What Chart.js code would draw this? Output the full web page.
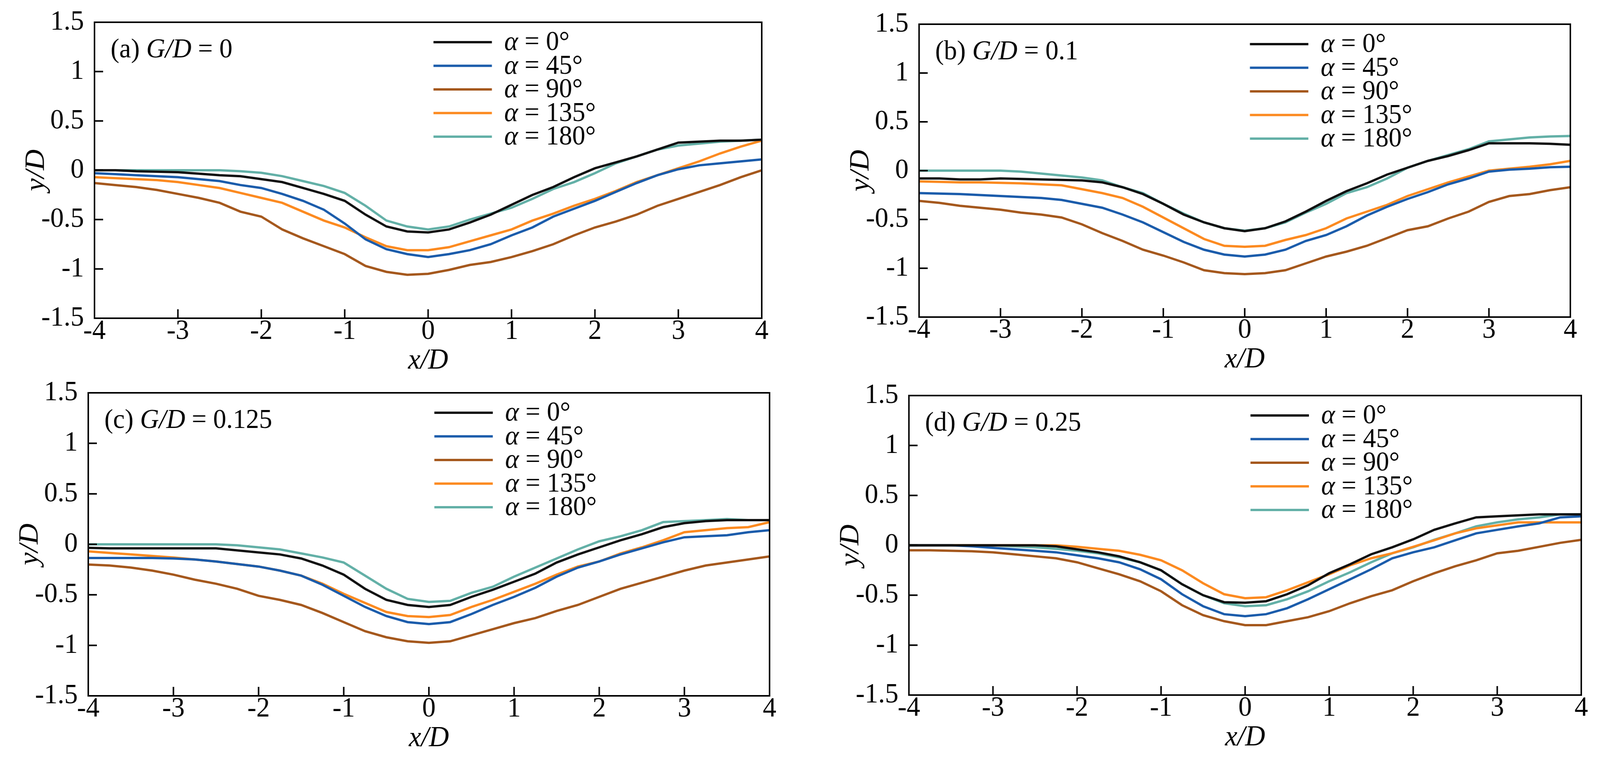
<!DOCTYPE html>
<html>
<head>
<meta charset="utf-8">
<script src="https://cdn.jsdelivr.net/npm/chart.js@4.4.1/dist/chart.umd.min.js"></script>
<style>
html,body{margin:0;padding:0;background:#fff;overflow:hidden}
canvas{position:absolute}
</style>
</head>
<body>
<canvas id="pa"></canvas>
<canvas id="pb"></canvas>
<canvas id="pc"></canvas>
<canvas id="pd"></canvas>
<script>
// ---------- DATA ----------
const xD = [-4,-3.75,-3.5,-3.25,-3,-2.75,-2.5,-2.25,-2,-1.75,-1.5,-1.25,-1,-0.75,-0.5,-0.25,0,0.25,0.5,0.75,1,1.25,1.5,1.75,2,2.25,2.5,2.75,3,3.25,3.5,3.75,4];
const xTicks = [-4,-3,-2,-1,0,1,2,3,4];
const yTicks = [-1.5,-1,-0.5,0,0.5,1,1.5];
const angles = ['0','45','90','135','180'];
const panelTags = ['(a)','(b)','(c)','(d)'];
const gapRatios = ['0','0.1','0.125','0.25'];

// (a) G/D = 0
const a0   = [0,0,-0.01,-0.015,-0.02,-0.035,-0.05,-0.06,-0.09,-0.12,-0.18,-0.24,-0.31,-0.45,-0.57,-0.62,-0.63,-0.6,-0.53,-0.45,-0.35,-0.25,-0.17,-0.07,0.02,0.08,0.14,0.21,0.28,0.29,0.3,0.3,0.31];
const a45  = [-0.03,-0.04,-0.05,-0.06,-0.07,-0.09,-0.11,-0.15,-0.18,-0.24,-0.31,-0.4,-0.54,-0.7,-0.8,-0.85,-0.88,-0.85,-0.81,-0.75,-0.66,-0.58,-0.47,-0.39,-0.31,-0.22,-0.13,-0.05,0.01,0.05,0.07,0.09,0.11];
const a90  = [-0.13,-0.15,-0.17,-0.2,-0.24,-0.28,-0.33,-0.42,-0.47,-0.6,-0.69,-0.77,-0.85,-0.97,-1.03,-1.06,-1.05,-1.01,-0.96,-0.93,-0.88,-0.82,-0.75,-0.66,-0.58,-0.52,-0.45,-0.36,-0.29,-0.22,-0.15,-0.07,0];
const a135 = [-0.07,-0.08,-0.09,-0.1,-0.12,-0.15,-0.18,-0.23,-0.28,-0.33,-0.42,-0.51,-0.58,-0.68,-0.77,-0.81,-0.81,-0.78,-0.72,-0.66,-0.6,-0.51,-0.44,-0.36,-0.29,-0.21,-0.12,-0.05,0.02,0.09,0.17,0.24,0.3];
const a180 = [0,0,0,0,0,0,0,-0.01,-0.026,-0.06,-0.11,-0.16,-0.23,-0.36,-0.51,-0.57,-0.6,-0.57,-0.5,-0.44,-0.38,-0.29,-0.19,-0.12,-0.03,0.07,0.14,0.21,0.25,0.27,0.29,0.3,0.31];

// (b) G/D = 0.1
const b0   = [-0.08,-0.08,-0.09,-0.09,-0.08,-0.085,-0.09,-0.095,-0.1,-0.12,-0.17,-0.24,-0.34,-0.45,-0.53,-0.59,-0.62,-0.59,-0.52,-0.42,-0.31,-0.21,-0.13,-0.04,0.03,0.1,0.15,0.21,0.28,0.28,0.28,0.275,0.265];
const b45  = [-0.23,-0.235,-0.24,-0.25,-0.26,-0.27,-0.28,-0.3,-0.34,-0.38,-0.45,-0.53,-0.63,-0.73,-0.81,-0.86,-0.88,-0.86,-0.81,-0.72,-0.66,-0.57,-0.46,-0.37,-0.29,-0.22,-0.14,-0.08,-0.01,0.01,0.02,0.035,0.04];
const b90  = [-0.31,-0.33,-0.36,-0.38,-0.4,-0.43,-0.45,-0.48,-0.55,-0.64,-0.72,-0.81,-0.87,-0.94,-1.02,-1.05,-1.06,-1.05,-1.02,-0.95,-0.88,-0.83,-0.77,-0.69,-0.61,-0.57,-0.49,-0.42,-0.32,-0.26,-0.24,-0.2,-0.17];
const b135 = [-0.11,-0.115,-0.12,-0.12,-0.125,-0.13,-0.14,-0.15,-0.19,-0.23,-0.28,-0.37,-0.48,-0.59,-0.7,-0.77,-0.78,-0.77,-0.71,-0.66,-0.59,-0.49,-0.42,-0.35,-0.26,-0.19,-0.12,-0.06,0,0.02,0.04,0.065,0.1];
const b180 = [0,0,0,0,0,-0.01,-0.03,-0.05,-0.07,-0.1,-0.17,-0.23,-0.34,-0.44,-0.53,-0.59,-0.615,-0.59,-0.53,-0.43,-0.34,-0.23,-0.17,-0.08,0.03,0.1,0.16,0.22,0.3,0.32,0.34,0.35,0.355];

// (c) G/D = 0.125
const c0   = [-0.035,-0.04,-0.04,-0.04,-0.04,-0.04,-0.04,-0.06,-0.08,-0.1,-0.14,-0.21,-0.3,-0.44,-0.55,-0.6,-0.62,-0.6,-0.52,-0.45,-0.37,-0.29,-0.18,-0.1,-0.03,0.04,0.1,0.17,0.21,0.23,0.24,0.24,0.24];
const c45  = [-0.135,-0.135,-0.135,-0.135,-0.14,-0.15,-0.17,-0.195,-0.22,-0.26,-0.31,-0.4,-0.51,-0.62,-0.71,-0.77,-0.79,-0.77,-0.69,-0.6,-0.52,-0.43,-0.32,-0.23,-0.17,-0.1,-0.04,0.02,0.07,0.08,0.09,0.12,0.14];
const c90  = [-0.2,-0.21,-0.23,-0.26,-0.3,-0.35,-0.39,-0.44,-0.51,-0.55,-0.6,-0.68,-0.77,-0.86,-0.92,-0.96,-0.975,-0.96,-0.9,-0.84,-0.78,-0.73,-0.66,-0.6,-0.52,-0.44,-0.38,-0.32,-0.26,-0.21,-0.18,-0.15,-0.12];
const c135 = [-0.07,-0.085,-0.1,-0.115,-0.13,-0.15,-0.17,-0.195,-0.22,-0.26,-0.31,-0.39,-0.49,-0.58,-0.67,-0.71,-0.72,-0.7,-0.62,-0.55,-0.47,-0.39,-0.3,-0.22,-0.17,-0.09,-0.03,0.04,0.12,0.14,0.16,0.17,0.22];
const c180 = [0,0,0,0,0,0,0,-0.01,-0.03,-0.05,-0.09,-0.13,-0.18,-0.31,-0.44,-0.54,-0.57,-0.56,-0.48,-0.42,-0.32,-0.23,-0.14,-0.05,0.03,0.08,0.14,0.22,0.23,0.24,0.25,0.24,0.24];

// (d) G/D = 0.25
const d0   = [0,0,0,0,0,0,0,-0.01,-0.04,-0.07,-0.11,-0.17,-0.25,-0.39,-0.5,-0.57,-0.575,-0.56,-0.49,-0.4,-0.28,-0.19,-0.09,-0.02,0.06,0.155,0.22,0.28,0.29,0.3,0.31,0.31,0.31];
const d45  = [0,0,0,-0.01,-0.025,-0.04,-0.055,-0.07,-0.1,-0.13,-0.17,-0.24,-0.34,-0.49,-0.61,-0.69,-0.71,-0.69,-0.63,-0.54,-0.44,-0.34,-0.24,-0.13,-0.07,-0.02,0.05,0.12,0.155,0.19,0.22,0.28,0.29];
const d90  = [-0.05,-0.05,-0.055,-0.06,-0.07,-0.09,-0.11,-0.13,-0.17,-0.23,-0.29,-0.36,-0.46,-0.6,-0.7,-0.76,-0.8,-0.8,-0.76,-0.72,-0.66,-0.58,-0.51,-0.45,-0.36,-0.28,-0.21,-0.15,-0.08,-0.055,-0.015,0.025,0.055];
const d135 = [0,0,0,0,0,0,0,0,-0.015,-0.035,-0.055,-0.095,-0.15,-0.25,-0.38,-0.49,-0.53,-0.52,-0.45,-0.37,-0.29,-0.2,-0.13,-0.08,-0.015,0.05,0.12,0.17,0.2,0.23,0.23,0.23,0.23];
const d180 = [0,0,0,0,0,-0.01,-0.02,-0.035,-0.055,-0.08,-0.12,-0.17,-0.25,-0.39,-0.5,-0.58,-0.61,-0.6,-0.54,-0.46,-0.36,-0.27,-0.17,-0.08,-0.02,0.055,0.12,0.19,0.23,0.26,0.28,0.31,0.31];

const panelSeries = [
  [a0,a45,a90,a135,a180],
  [b0,b45,b90,b135,b180],
  [c0,c45,c90,c135,c180],
  [d0,d45,d90,d135,d180]
];

// ---------- STYLE / LAYOUT ----------
const seriesColors = ['#111111','#1b5cab','#a5581d','#fc8a20','#63b0a7'];
const FONT = 'Liberation Serif';
const DESIGN_W = 4271;
// canvas boxes in reference pixel space (plot area = box minus 199 left, 70 top, 50 right, 154 bottom)
const layouts = [
  {id:'pa', x:53,   y:-13, w:2030, h:982},
  {id:'pb', x:2254, y:-8,  w:1988, h:974},
  {id:'pc', x:37,   y:936, w:2067, h:1000},
  {id:'pd', x:2227, y:943, w:2044, h:991}
];
// the viewport may be narrower than the design width: squeeze horizontally to fit
const sx = Math.min(1, (window.innerWidth || DESIGN_W) / DESIGN_W);

function drawMixed(ctx, parts, x, y, size) {
  let cx = x;
  for (const [txt, italic] of parts) {
    ctx.font = (italic ? 'italic ' : '') + size + 'px "' + FONT + '"';
    ctx.fillText(txt, cx, y);
    cx += ctx.measureText(txt).width;
  }
}

const decorPlugin = {
  id: 'decor',
  afterDatasetsDraw(chart, args, opts) {
    const ctx = chart.ctx;
    const ca = chart.chartArea;
    const xs = chart.scales.x, ys = chart.scales.y;
    ctx.save();
    ctx.strokeStyle = '#000';
    ctx.lineWidth = 4;
    ctx.beginPath();
    xTicks.forEach(v => {
      if (v === xTicks[0] || v === xTicks[xTicks.length-1]) return;
      const px = xs.getPixelForValue(v);
      ctx.moveTo(px, ca.bottom); ctx.lineTo(px, ca.bottom - 23);
    });
    yTicks.forEach(v => {
      if (v === yTicks[0] || v === yTicks[yTicks.length-1]) return;
      const py = ys.getPixelForValue(v);
      ctx.moveTo(ca.left, py); ctx.lineTo(ca.left + 23, py);
    });
    ctx.stroke();
    ctx.strokeRect(ca.left, ca.top, ca.right - ca.left, ca.bottom - ca.top);
    ctx.fillStyle = '#000';
    ctx.textBaseline = 'middle';
    ctx.textAlign = 'left';
    drawMixed(ctx, [[opts.tag + ' ', false], ['G/D', true], [' = ' + opts.gap, false]], ca.left + 43, ca.top + 72, 70);
    const lx0 = ca.left + 0.508 * (ca.right - ca.left);
    chart.data.datasets.forEach((ds, i) => {
      const ly = ca.top + 51 + i * 60.5;
      ctx.strokeStyle = ds.borderColor;
      ctx.lineWidth = 6;
      ctx.beginPath();
      ctx.moveTo(lx0, ly); ctx.lineTo(lx0 + 156, ly);
      ctx.stroke();
      ctx.fillStyle = '#000';
      drawMixed(ctx, [['\u03B1', true], [' = ' + ds.angle + '\u00B0', false]], lx0 + 189, ly + 2, 70);
    });
    ctx.restore();
  }
};

layouts.forEach((L, p) => {
  const cv = document.getElementById(L.id);
  cv.width = L.w; cv.height = L.h;
  cv.style.left = (L.x * sx) + 'px'; cv.style.top = L.y + 'px';
  cv.style.width = (L.w * sx) + 'px'; cv.style.height = L.h + 'px';
  const datasets = panelSeries[p].map((arr, i) => ({
    label: '\u03B1 = ' + angles[i] + '\u00B0',
    angle: angles[i],
    data: xD.map((x, k) => ({x: x, y: arr[k]})),
    borderColor: seriesColors[i],
    backgroundColor: seriesColors[i],
    borderWidth: 6,
    pointRadius: 0,
    tension: 0,
    fill: false
  }));
  new Chart(cv, {
    type: 'line',
    data: {datasets},
    options: {
      responsive: false,
      animation: false,
      devicePixelRatio: 1,
      layout: {padding: {top: 70, right: 50, left: 0, bottom: 0}},
      plugins: {
        legend: {display: false},
        tooltip: {enabled: false},
        decor: {tag: panelTags[p], gap: gapRatios[p]}
      },
      scales: {
        x: {
          type: 'linear', min: -4, max: 4,
          afterBuildTicks: s => { s.ticks = xTicks.map(v => ({value: v})); },
          afterFit: s => { s.height = 154; },
          grid: {display: false, drawTicks: false},
          border: {display: false},
          ticks: {color: '#000', padding: -2, maxRotation: 0, autoSkip: false,
                  font: {family: FONT, size: 72, lineHeight: 1},
                  callback: v => String(v)},
          title: {display: true, text: 'x/D', color: '#000', padding: 0,
                  font: {family: FONT, size: 74, style: 'italic', lineHeight: 1.2}}
        },
        y: {
          type: 'linear', min: -1.5, max: 1.5,
          afterBuildTicks: s => { s.ticks = yTicks.map(v => ({value: v})); },
          afterFit: s => { s.width = 199; },
          grid: {display: false, drawTicks: false},
          border: {display: false},
          ticks: {color: '#000', padding: 28, autoSkip: false,
                  font: {family: FONT, size: 72, lineHeight: 1},
                  callback: v => String(v)},
          title: {display: true, text: 'y/D', color: '#000', padding: 0,
                  font: {family: FONT, size: 74, style: 'italic', lineHeight: 1.2}}
        }
      }
    },
    plugins: [decorPlugin]
  });
});
</script>
</body>
</html>
